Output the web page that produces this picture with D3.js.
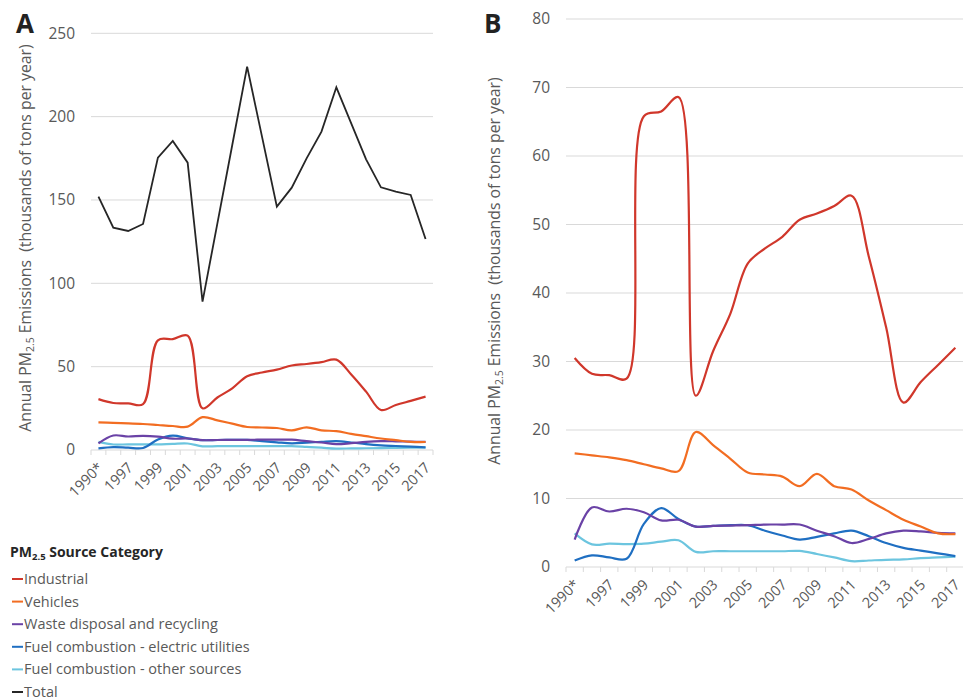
<!DOCTYPE html>
<html>
<head>
<meta charset="utf-8">
<script src="https://cdn.jsdelivr.net/npm/d3@7"></script>
<style>
  body { margin: 0; background: #fff; }
  svg { font-family: "Open Sans", "Noto Sans", sans-serif; }
</style>
</head>
<body>
<div id="chart"></div>
<script>
// Catégories (années) et séries
const years = ["1990", "1996", "1997", "1998", "1999", "2000", "2001", "2002", "2003", "2004", "2005",
               "2006", "2007", "2008", "2009", "2010", "2011", "2012", "2013", "2014", "2015", "2016", "2017"];
const yearLabels = ["1990*", "1997", "1999", "2001", "2003", "2005", "2007", "2009", "2011", "2013", "2015", "2017"];

const industrial = [30.5, 28.2, 28.0, 27.5, 65.8, 66.5, 68.6, 25.0, 31.5, 37.0, 44.3, 46.5,
                    48.2, 50.7, 51.6, 52.7, 54.2, 45.3, 35.0, 24.0, 27.0, 29.5, 32.0];
const vehicles = [16.6, 16.3, 16.0, 15.6, 15.0, 14.4, 14.0, 19.7, 17.8, 15.8, 13.8, 13.5,
                  13.2, 11.8, 13.6, 11.8, 11.3, 9.7, 8.3, 6.9, 5.9, 4.9, 4.8];
const waste = [4.0, 8.7, 8.1, 8.5, 8.0, 6.8, 6.9, 5.9, 6.0, 6.05, 6.1, 6.2,
               6.2, 6.2, 5.3, 4.5, 3.5, 4.1, 4.9, 5.3, 5.2, 5.0, 4.9];
const electric = [0.95, 1.7, 1.4, 1.2, 6.3, 8.6, 7.0, 5.9, 6.0, 6.1, 6.1, 5.3,
                  4.6, 4.0, 4.4, 4.9, 5.3, 4.5, 3.5, 2.8, 2.4, 2.0, 1.6];
const otherSources = [4.9, 3.3, 3.4, 3.35, 3.4, 3.7, 3.9, 2.2, 2.3, 2.3, 2.3, 2.3,
                      2.3, 2.35, 1.9, 1.4, 0.85, 0.95, 1.05, 1.1, 1.3, 1.4, 1.5];
const total = [152, 133.4, 131.4, 135.6, 175.4, 185.4, 172.4, 89, 136, 183, 230, 188,
               146, 157.4, 175, 191, 217.6, 196, 174.4, 157.6, 155, 153, 126.6];

const seriesNames = ["Industrial", "Vehicles", "Waste disposal and recycling",
                     "Fuel combustion - electric utilities", "Fuel combustion - other sources", "Total"];
const seriesColors = ["#d0372b", "#f26d22", "#6a42a6", "#1f6fc2", "#6cc5df", "#262626"];

const components = [industrial, vehicles, waste, electric, otherSources];

const svg = d3.select("#chart").append("svg")
    .attr("width", 963)
    .attr("height", 700);

const textGray = "#595959";
const gridGray = "#d9d9d9";

function drawPanel(opt) {
    const g = svg.append("g");

    const x = d3.scaleBand().domain(years).range([opt.x0, opt.x1]);
    const y = d3.scaleLinear().domain([0, opt.yMax]).range([opt.y0, opt.y1]);

    // Lignes de grille horizontales + étiquettes de l'axe Y
    const ticks = d3.range(0, opt.yMax + 0.001, opt.yStep);
    g.selectAll(".grid").data(ticks.filter(t => t > 0)).enter()
        .append("line")
        .attr("x1", opt.x0).attr("x2", opt.x1)
        .attr("y1", d => y(d)).attr("y2", d => y(d))
        .attr("stroke", gridGray).attr("stroke-width", 1);

    g.selectAll(".ylab").data(ticks).enter()
        .append("text")
        .attr("x", opt.x0 - 16)
        .attr("y", d => y(d))
        .attr("dy", "0.35em")
        .attr("text-anchor", "end")
        .attr("fill", textGray)
        .style("font-size", "15.5px")
        .text(d => d);

    // Axe X (ligne grise, graduations entre catégories)
    g.append("line")
        .attr("x1", opt.x0).attr("x2", opt.x1)
        .attr("y1", y(0)).attr("y2", y(0))
        .attr("stroke", gridGray).attr("stroke-width", 1.2);

    const bounds = years.map(d => x(d)).concat([opt.x1]);
    g.selectAll(".xtick").data(bounds).enter()
        .append("line")
        .attr("x1", d => d).attr("x2", d => d)
        .attr("y1", y(0)).attr("y2", y(0) + 5)
        .attr("stroke", gridGray).attr("stroke-width", 1);

    const labelled = years.filter((d, i) => i % 2 === 0);
    g.selectAll(".xlab").data(labelled).enter()
        .append("text")
        .attr("transform", d => "translate(" + (x(d) + x.bandwidth() / 2 + 2) + "," + (y(0) + 15) + ") rotate(-45)")
        .attr("text-anchor", "end")
        .attr("dy", "0.35em")
        .attr("fill", textGray)
        .style("font-size", "14.5px")
        .text((d, i) => yearLabels[i]);

    // Titre de l'axe Y
    const title = g.append("text")
        .attr("transform", "translate(" + opt.titleX + "," + opt.titleY + ") rotate(-90)")
        .attr("text-anchor", "middle")
        .attr("fill", textGray)
        .style("font-size", "15.8px")
        .style("white-space", "pre");
    title.append("tspan").text("Annual PM");
    title.append("tspan").attr("baseline-shift", "-25%").style("font-size", "10.5px").text("2.5");
    title.append("tspan").text(" Emissions  (thousands of tons per year)");

    // Lettre du panneau
    g.append("text")
        .attr("x", opt.letterX).attr("y", 33)
        .attr("fill", "#222")
        .style("font-size", "26px")
        .style("font-weight", "bold")
        .text(opt.letter);

    // Séries
    const smooth = d3.line()
        .x((d, i) => x(years[i]) + x.bandwidth() / 2)
        .y(d => y(d))
        .curve(d3.curveCatmullRom.alpha(0.5));
    const straight = d3.line()
        .x((d, i) => x(years[i]) + x.bandwidth() / 2)
        .y(d => y(d));

    const drawn = components.map((s, i) => ({ values: s, color: seriesColors[i] })).reverse();
    g.selectAll(".series").data(drawn).enter()
        .append("path")
        .attr("d", d => smooth(d.values))
        .attr("fill", "none")
        .attr("stroke", d => d.color)
        .attr("stroke-width", 2.2);

    if (opt.showTotal) {
        g.append("path")
            .attr("d", straight(total))
            .attr("fill", "none")
            .attr("stroke", seriesColors[5])
            .attr("stroke-width", 1.8);
    }
}

drawPanel({ letter: "A", letterX: 16, x0: 91, x1: 433, y0: 450, y1: 33.3, yMax: 250, yStep: 50,
            titleX: 31, titleY: 238, showTotal: true });
drawPanel({ letter: "B", letterX: 484, x0: 566, x1: 964, y0: 567, y1: 19, yMax: 80, yStep: 10,
            titleX: 500, titleY: 271, showTotal: false });

// Légende
const legend = svg.append("g").attr("transform", "translate(10,0)");
const legendTitle = legend.append("text")
    .attr("x", 0).attr("y", 557)
    .attr("fill", "#262626")
    .style("font-size", "14px")
    .style("font-weight", "bold");
legendTitle.append("tspan").text("PM");
legendTitle.append("tspan").attr("baseline-shift", "-25%").style("font-size", "9.5px").text("2.5");
legendTitle.append("tspan").text(" Source Category");

seriesNames.forEach(function(name, i) {
    const cy = 579 + i * 22.6;
    legend.append("line")
        .attr("x1", 2).attr("x2", 13)
        .attr("y1", cy).attr("y2", cy)
        .attr("stroke", seriesColors[i])
        .attr("stroke-width", 2);
    legend.append("text")
        .attr("x", 14).attr("y", cy)
        .attr("dy", "0.35em")
        .attr("fill", textGray)
        .style("font-size", "14.5px")
        .text(name);
});
</script>
</body>
</html>
